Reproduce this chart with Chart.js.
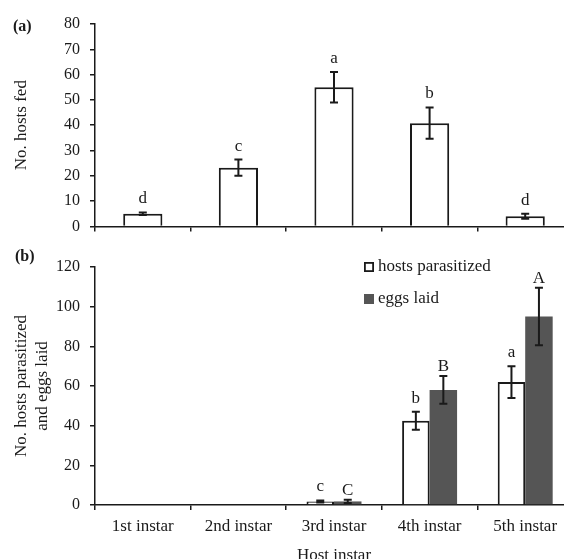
<!DOCTYPE html>
<html>
<head>
<meta charset="utf-8">
<script src="https://cdn.jsdelivr.net/npm/chart.js@4.4.1/dist/chart.umd.min.js"></script>
<style>
  html, body { margin: 0; padding: 0; background: #fff; }
  #app { position: relative; width: 564px; height: 559px; overflow: hidden; }
  canvas { position: absolute; left: 0; }
  #chartA { top: 0; }
  #chartB { top: 240px; }
</style>
</head>
<body>
<div id="app">
  <canvas id="chartA" width="576" height="246"></canvas>
  <canvas id="chartB" width="576" height="330"></canvas>
</div>
<script>
const instars = ["1st instar", "2nd instar", "3rd instar", "4th instar", "5th instar"];

// (a) hosts fed per instar, mean and SE
const hostsFed = [5, 23.2, 55, 40.8, 4];
const hostsFedErr = [0.5, 3.2, 6, 6.2, 1];
const hostsFedLetters = ["d", "c", "a", "b", "d"];

// (b) hosts parasitized and eggs laid
const hostsParasitized = [0, 0, 1.8, 42.5, 62];
const hostsParasitizedErr = [0, 0, 0.5, 4.5, 8];
const parasitizedLetters = ["", "", "c", "b", "a"];

const eggsLaid = [0, 0, 1.8, 58, 95];
const eggsLaidErr = [0, 0, 0.8, 7, 14.5];
const eggsLetters = ["", "", "C", "B", "A"];

// y axis ranges
const fedAxis = { min: 0, max: 80, step: 10 };
const parasitAxis = { min: 0, max: 120, step: 20 };

const ink = "#1a1a1a";
const serif = "'Liberation Serif', 'Times New Roman', serif";
Chart.defaults.font.family = serif;
Chart.defaults.color = ink;

const tickFont = { family: serif, size: 16 };
const labelFont = { family: serif, size: 17 };

//error bars + significance letters on top of every bar
const errorBars = {
  id: "errorBars",
  afterDatasetsDraw(chart) {
    const ctx = chart.ctx;
    const yScale = chart.scales.y;
    ctx.save();
    chart.data.datasets.forEach((ds, i) => {
      const meta = chart.getDatasetMeta(i);
      meta.data.forEach((bar, j) => {
        const v = ds.data[j];
        const err = ds.errors[j];
        let top = yScale.getPixelForValue(v);
        if (err > 0) {
          const hi = yScale.getPixelForValue(v + err);
          const lo = yScale.getPixelForValue(v - err);
          ctx.strokeStyle = ink;
          ctx.lineWidth = 2;
          ctx.beginPath();
          ctx.moveTo(bar.x, hi);
          ctx.lineTo(bar.x, lo);
          ctx.moveTo(bar.x - 4, hi);
          ctx.lineTo(bar.x + 4, hi);
          ctx.moveTo(bar.x - 4, lo);
          ctx.lineTo(bar.x + 4, lo);
          ctx.stroke();
          top = hi;
        }
        const letter = ds.letters[j];
        if (letter) {
          const upper = letter === letter.toUpperCase();
          ctx.fillStyle = ink;
          ctx.font = "17px " + serif;
          ctx.textAlign = "center";
          ctx.textBaseline = "alphabetic";
          ctx.fillText(letter, bar.x, top - (upper ? 5 : 9));
        }
      });
    });
    ctx.restore();
  },
};

//panel tag, (a) / (b)
const panelTag = {
  id: "panelTag",
  afterDraw(chart, args, opts) {
    const ctx = chart.ctx;
    ctx.save();
    ctx.fillStyle = ink;
    ctx.font = "bold 16px " + serif;
    ctx.textAlign = "left";
    ctx.textBaseline = "middle";
    ctx.fillText(opts.text, opts.x, opts.y);
    ctx.restore();
  },
};

//small stacked legend in the upper right of panel b
const boxLegend = {
  id: "boxLegend",
  afterDraw(chart) {
    const ctx = chart.ctx;
    const area = chart.chartArea;
    const x = area.left + 269;
    let y = area.top;
    ctx.save();
    ctx.font = "17px " + serif;
    ctx.textAlign = "left";
    ctx.textBaseline = "middle";
    chart.data.datasets.forEach((ds) => {
      ctx.fillStyle = ds.backgroundColor;
      ctx.fillRect(x, y - 5, 10, 10);
      if (ds.borderWidth) {
        ctx.strokeStyle = ds.borderColor;
        ctx.lineWidth = 1.8;
        ctx.strokeRect(x + 0.9, y - 4.1, 8.2, 8.2);
      }
      ctx.fillStyle = ink;
      ctx.fillText(ds.label, x + 14, y);
      y += 32;
    });
    ctx.restore();
  },
};

const yAxis = (range, title, titlePad) => ({
  min: range.min,
  max: range.max,
  ticks: { stepSize: range.step, padding: 10, color: ink, font: tickFont },
  grid: { drawOnChartArea: false, tickLength: 5, color: ink, lineWidth: 1.5 },
  border: { color: ink, width: 1.5 },
  title: { display: true, text: title, color: ink, font: { family: serif, size: 17, lineHeight: 1.25 }, padding: { top: titlePad, bottom: 0 } },
  afterFit: (scale) => {
    scale.width = 95;
  },
});

// panel (a)
new Chart(document.querySelector("#chartA"), {
  type: "bar",
  data: {
    labels: instars,
    datasets: [
      {
        label: "hosts fed",
        data: hostsFed,
        errors: hostsFedErr,
        letters: hostsFedLetters,
        backgroundColor: "#ffffff",
        borderColor: ink,
        borderWidth: 2,
        barPercentage: 0.41,
        categoryPercentage: 1,
      },
    ],
  },
  options: {
    responsive: false,
    animation: false,
    layout: { padding: { left: 0, right: 3, top: 24, bottom: 0 } },
    scales: {
      x: {
        ticks: { display: false },
        grid: { drawOnChartArea: false, tickLength: 5, color: ink, lineWidth: 1.5, offset: true },
        border: { color: ink, width: 1.5 },
        afterFit: (scale) => {
          scale.height = 14;
        },
      },
      y: yAxis(fedAxis, "No. hosts fed", 11),
    },
    plugins: {
      legend: { display: false },
      tooltip: { enabled: false },
      panelTag: { text: "(a)", x: 13, y: 27 },
    },
  },
  plugins: [errorBars, panelTag],
});

// panel (b)
new Chart(document.querySelector("#chartB"), {
  type: "bar",
  data: {
    labels: instars,
    datasets: [
      {
        label: "hosts parasitized",
        data: hostsParasitized,
        errors: hostsParasitizedErr,
        letters: parasitizedLetters,
        backgroundColor: "#ffffff",
        borderColor: ink,
        borderWidth: 2,
      },
      {
        label: "eggs laid",
        data: eggsLaid,
        errors: eggsLaidErr,
        letters: eggsLetters,
        backgroundColor: "#555555",
        borderColor: "#555555",
        borderWidth: 0,
      },
    ],
  },
  options: {
    responsive: false,
    animation: false,
    datasets: { bar: { barPercentage: 1, categoryPercentage: 0.575 } },
    layout: { padding: { left: 0, right: 3, top: 27, bottom: 0 } },
    scales: {
      x: {
        ticks: { color: ink, font: labelFont, padding: 6, maxRotation: 0, autoSkip: false },
        grid: { drawOnChartArea: false, tickLength: 5, color: ink, lineWidth: 1.5, offset: true },
        border: { color: ink, width: 1.5 },
        title: { display: true, text: "Host instar", color: ink, font: labelFont, padding: { top: 0, bottom: 4 } },
        afterFit: (scale) => {
          scale.height = 65;
        },
      },
      y: yAxis(parasitAxis, ["No. hosts parasitized", "and eggs laid"], 11),
    },
    plugins: {
      legend: { display: false },
      tooltip: { enabled: false },
      panelTag: { text: "(b)", x: 15, y: 17 },
    },
  },
  plugins: [errorBars, panelTag, boxLegend],
});
</script>
</body>
</html>
